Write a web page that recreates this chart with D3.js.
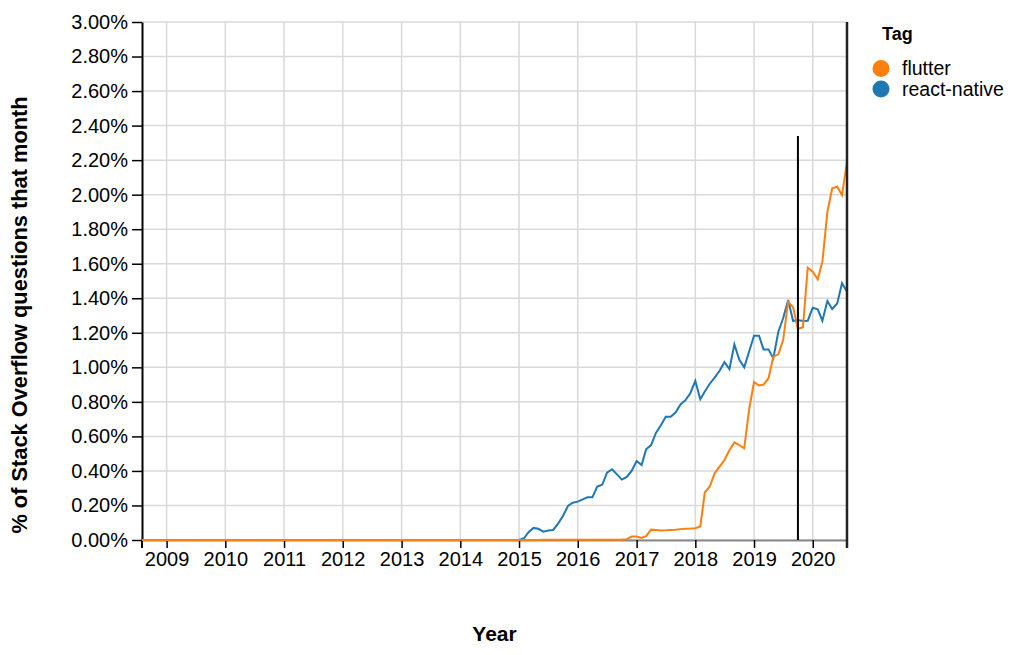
<!DOCTYPE html>
<html>
<head>
<meta charset="utf-8">
<script src="https://cdn.jsdelivr.net/npm/d3@7"></script>
<style>
  html, body { margin: 0; padding: 0; background: #fff; }
  svg { display: block; font-family: "Liberation Sans", Arial, Helvetica, sans-serif; }
</style>
</head>
<body>
<svg id="chart" width="1024" height="655"></svg>
<script>
// ---- data (percent of Stack Overflow questions per month) ----
const startMonth = "2008-08";
const tags = ["flutter", "react-native"];
const tagColors = ["#ff7f0e", "#1f77b4"];
const yTicks = [0, 0.2, 0.4, 0.6, 0.8, 1.0, 1.2, 1.4, 1.6, 1.8, 2.0, 2.2, 2.4, 2.6, 2.8, 3.0];
const xTickYears = [2009, 2010, 2011, 2012, 2013, 2014, 2015, 2016, 2017, 2018, 2019, 2020];

const reactNative = [
  // 2008 Aug-Dec
  0, 0, 0, 0, 0,
  // 2009
  0, 0, 0, 0, 0, 0, 0, 0, 0, 0, 0, 0,
  // 2010
  0, 0, 0, 0, 0, 0, 0, 0, 0, 0, 0, 0,
  // 2011
  0, 0, 0, 0, 0, 0, 0, 0, 0, 0, 0, 0,
  // 2012
  0, 0, 0, 0, 0, 0, 0, 0, 0, 0, 0, 0,
  // 2013
  0, 0, 0, 0, 0, 0, 0, 0, 0, 0, 0, 0,
  // 2014
  0, 0, 0, 0, 0, 0, 0, 0, 0, 0, 0, 0,
  // 2015
  0, 0.01, 0.045, 0.07, 0.065, 0.048, 0.055, 0.058, 0.095, 0.139, 0.197, 0.216,
  // 2016
  0.222, 0.235, 0.247, 0.247, 0.31, 0.32, 0.39, 0.41, 0.38, 0.35, 0.365, 0.40,
  // 2017
  0.457, 0.434, 0.525, 0.55, 0.62, 0.665, 0.714, 0.714, 0.74, 0.785, 0.81, 0.85,
  // 2018
  0.921, 0.815, 0.86, 0.905, 0.94, 0.98, 1.03, 0.99, 1.133, 1.045, 1.0, 1.09,
  // 2019
  1.183, 1.183, 1.104, 1.104, 1.052, 1.206, 1.284, 1.39, 1.268, 1.274, 1.268, 1.27,
  // 2020 Jan-Aug
  1.345, 1.336, 1.27, 1.384, 1.338, 1.37, 1.487, 1.438
];

const flutter = [
  // 2008 Aug-Dec
  0, 0, 0, 0, 0,
  // 2009
  0, 0, 0, 0, 0, 0, 0, 0, 0, 0, 0, 0,
  // 2010
  0, 0, 0, 0, 0, 0, 0, 0, 0, 0, 0, 0,
  // 2011
  0, 0, 0, 0, 0, 0, 0, 0, 0, 0, 0, 0,
  // 2012
  0, 0, 0, 0, 0, 0, 0, 0, 0, 0, 0, 0,
  // 2013
  0, 0, 0, 0, 0, 0, 0, 0, 0, 0, 0, 0,
  // 2014
  0, 0, 0, 0, 0, 0, 0, 0, 0, 0, 0, 0,
  // 2015
  0, 0, 0, 0, 0, 0.001, 0.001, 0.001, 0.001, 0.001, 0.001, 0.002,
  // 2016
  0.002, 0.002, 0.002, 0.002, 0.002, 0.002, 0.002, 0.002, 0.002, 0.003, 0.005, 0.02,
  // 2017
  0.02, 0.012, 0.022, 0.06, 0.058, 0.055, 0.056, 0.058, 0.06, 0.063, 0.065, 0.066,
  // 2018
  0.068, 0.078, 0.275, 0.31, 0.386, 0.425, 0.463, 0.52, 0.565, 0.55, 0.531, 0.753,
  // 2019
  0.915, 0.895, 0.9, 0.937, 1.062, 1.075, 1.158, 1.38, 1.348, 1.222, 1.232, 1.577,
  // 2020 Jan-Aug
  1.554, 1.51, 1.612, 1.9, 2.037, 2.046, 1.998, 2.19
];

// vertical marker rules: month and top value (percent)
const ruleMonths = ["2019-10", "2020-08"];
const ruleTops = [2.34, 3.0];

// ---- build ----
const parseMonth = d3.timeParse("%Y-%m");
const t0 = parseMonth(startMonth);
const monthDates = reactNative.map((_, i) => d3.timeMonth.offset(t0, i));
const seriesValues = [flutter, reactNative];
const series = tags.map((tag, k) => ({
  tag, color: tagColors[k],
  points: monthDates.map((d, i) => ({ date: d, value: seriesValues[k][i] }))
}));

const svg = d3.select("#chart");
const plotL = 142, plotR = 847, plotT = 22, plotB = 540;

const x = d3.scaleTime()
  .domain([monthDates[0], monthDates[monthDates.length - 1]])
  .range([plotL, plotR]);
const y = d3.scaleLinear().domain([0, 3.0]).range([plotB, plotT]);

// grid
const grid = svg.append("g");
grid.selectAll("line.h").data(yTicks).join("line")
  .attr("x1", plotL).attr("x2", plotR)
  .attr("y1", d => y(d)).attr("y2", d => y(d))
  .attr("stroke", "#d9d9d9").attr("stroke-width", 1.5);
grid.selectAll("line.v").data(xTickYears).join("line")
  .attr("x1", d => x(new Date(d, 0, 1))).attr("x2", d => x(new Date(d, 0, 1)))
  .attr("y1", plotT).attr("y2", plotB)
  .attr("stroke", "#d9d9d9").attr("stroke-width", 1.5);

// x axis
const xAxis = d3.axisBottom(x)
  .tickValues(xTickYears.map(yy => new Date(yy, 0, 1)))
  .tickFormat(d3.timeFormat("%Y"))
  .tickSize(8).tickSizeOuter(0).tickPadding(4);
const gx = svg.append("g").attr("transform", `translate(0,${plotB})`).call(xAxis);
gx.select(".domain").attr("stroke", "#888").attr("stroke-width", 2);
gx.selectAll(".tick line").attr("stroke", "#000").attr("stroke-width", 1.5);
gx.selectAll(".tick text").attr("font-size", 20).attr("fill", "#000")
  .attr("font-family", "Liberation Sans, Arial, sans-serif");

// y axis
const yAxis = d3.axisLeft(y)
  .tickValues(yTicks)
  .tickFormat(d => d.toFixed(2) + "%")
  .tickSize(10).tickSizeOuter(0).tickPadding(4);
const gy = svg.append("g").attr("transform", `translate(${plotL},0)`).call(yAxis);
gy.select(".domain").attr("stroke", "#000").attr("stroke-width", 2);
gy.selectAll(".tick line").attr("stroke", "#000").attr("stroke-width", 1.5);
gy.selectAll(".tick text").attr("font-size", 20).attr("fill", "#000")
  .attr("font-family", "Liberation Sans, Arial, sans-serif");

// y-axis line extends slightly below
svg.append("line").attr("x1", plotL).attr("x2", plotL)
  .attr("y1", plotB).attr("y2", plotB + 8)
  .attr("stroke", "#000").attr("stroke-width", 2);

// lines (react-native first so flutter draws on top)
const lineGen = d3.line().x(d => x(d.date)).y(d => y(d.value));
const order = [1, 0];
svg.append("g").selectAll("path").data(order.map(i => series[i])).join("path")
  .attr("d", d => lineGen(d.points))
  .attr("fill", "none")
  .attr("stroke", d => d.color)
  .attr("stroke-width", 2)
  .attr("stroke-linejoin", "miter");

// marker rules
svg.append("g").selectAll("line").data(ruleMonths.map((m, i) => ({ date: parseMonth(m), topVal: ruleTops[i], i })))
  .join("line")
  .attr("x1", d => x(d.date)).attr("x2", d => x(d.date))
  .attr("y1", d => y(d.topVal)).attr("y2", d => d.i === 1 ? plotB + 8 : plotB)
  .attr("stroke", d => d.i === 1 ? "#222" : "#000")
  .attr("stroke-width", d => d.i === 1 ? 2.5 : 2);

// axis titles
svg.append("text")
  .attr("x", (plotL + plotR) / 2).attr("y", 641)
  .attr("text-anchor", "middle").attr("font-weight", "bold").attr("font-size", 21)
  .text("Year");
svg.append("text")
  .attr("transform", `translate(27,315) rotate(-90)`)
  .attr("text-anchor", "middle").attr("font-weight", "bold").attr("font-size", 21.8)
  .text("% of Stack Overflow questions that month");

// legend
const legend = svg.append("g").attr("transform", "translate(868,0)");
legend.append("text").attr("x", 14).attr("y", 40)
  .attr("font-weight", "bold").attr("font-size", 18).text("Tag");
const li = legend.selectAll("g.item").data(series).join("g")
  .attr("transform", (d, i) => `translate(0,${68.5 + i * 20.5})`);
li.append("circle").attr("cx", 13).attr("cy", 0).attr("r", 8.5).attr("fill", d => d.color);
li.append("text").attr("x", 34).attr("y", 0).attr("dy", "0.35em")
  .attr("font-size", 19.5).text(d => d.tag);
</script>
</body>
</html>
